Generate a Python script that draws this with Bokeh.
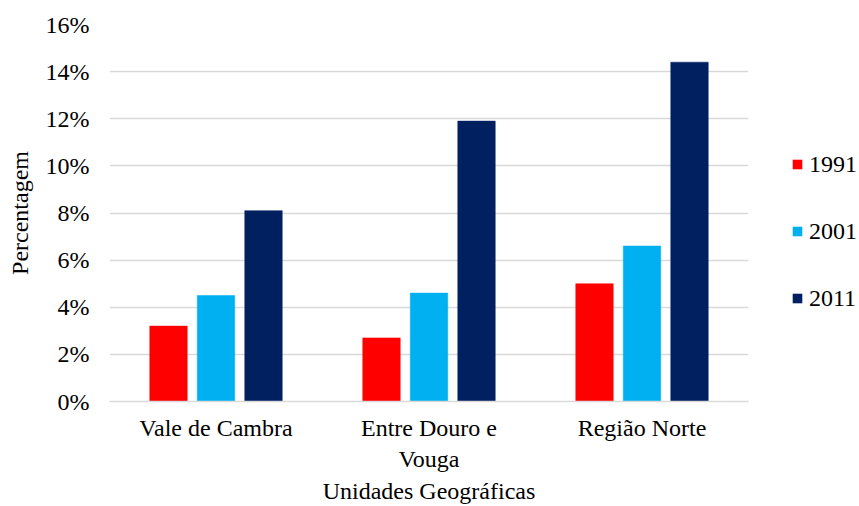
from bokeh.plotting import figure
from bokeh.layouts import row
from bokeh.models import (ColumnDataSource, FactorRange, FixedTicker, PrintfTickFormatter,
                          Legend, LegendItem, Range1d)
from bokeh.transform import dodge
from bokeh.embed import file_html
from bokeh.resources import INLINE

# Data: share (%) per geographic unit and census year
regions = ["Vale de Cambra", "Entre Douro e\nVouga", "Região Norte"]
years = ["1991", "2001", "2011"]
v1991 = [3.2, 2.7, 5.0]
v2001 = [4.5, 4.6, 6.6]
v2011 = [8.1, 11.9, 14.4]
y_ticks = [0, 2, 4, 6, 8, 10, 12, 14, 16]
colors = ["#FF0000", "#00B0F0", "#002060"]

FONT = "Liberation Serif"

source = ColumnDataSource(data=dict(region=regions, y1991=v1991, y2001=v2001, y2011=v2011))

p = figure(width=770, height=506, x_range=FactorRange(factors=regions),
           y_range=Range1d(0, 16), output_backend="svg", toolbar_location=None,
           min_border_left=109, min_border_right=22, min_border_top=24, min_border_bottom=103)
p.outline_line_color = None
p.background_fill_color = "white"
p.border_fill_color = "white"

offsets = [-0.223, 0.0, 0.223]
for yr, off, col in zip(years, offsets, colors):
    p.vbar(x=dodge("region", off, range=p.x_range), top="y" + yr, width=0.176,
           source=source, fill_color=col, line_color=col, line_width=0.5)

# Axes
p.yaxis.ticker = FixedTicker(ticks=y_ticks)
p.yaxis.formatter = PrintfTickFormatter(format="%d%%")
p.yaxis.axis_line_color = None
p.yaxis.major_tick_line_color = None
p.yaxis.minor_tick_line_color = None
p.yaxis.major_tick_out = 0
p.yaxis.major_label_standoff = 20
p.yaxis.major_label_text_font = FONT
p.yaxis.major_label_text_font_size = "24px"
p.yaxis.major_label_text_color = "black"
p.yaxis.axis_label = "Percentagem"
p.yaxis.axis_label_text_font = FONT
p.yaxis.axis_label_text_font_size = "24px"
p.yaxis.axis_label_text_font_style = "normal"
p.yaxis.axis_label_text_color = "black"
p.yaxis.axis_label_standoff = 10

p.xaxis.axis_line_color = "#d9d9d9"
p.xaxis.axis_line_width = 1.5
p.xaxis.major_tick_line_color = None
p.xaxis.minor_tick_line_color = None
p.xaxis.major_tick_out = 0
p.xaxis.major_label_standoff = 13
p.xaxis.major_label_text_font = FONT
p.xaxis.major_label_text_font_size = "24px"
p.xaxis.major_label_text_color = "black"
p.xaxis.major_label_text_line_height = 1.2
p.xaxis.axis_label = "Unidades Geográficas"
p.xaxis.axis_label_text_font = FONT
p.xaxis.axis_label_text_font_size = "24px"
p.xaxis.axis_label_text_font_style = "normal"
p.xaxis.axis_label_text_color = "black"
p.xaxis.axis_label_standoff = 3

p.xgrid.grid_line_color = None
p.ygrid.grid_line_color = "#d9d9d9"
p.ygrid.grid_line_width = 1.5

# Side strip holding the year legend; its bars have zero size and sit far
# outside its visible ranges, so only the legend keys show
lg = figure(width=89, height=506, x_range=FactorRange(factors=regions), y_range=Range1d(100, 101),
            output_backend="svg", toolbar_location=None,
            min_border=0, x_axis_location=None, y_axis_location=None)
lg.outline_line_color = None
lg.xgrid.visible = False
lg.ygrid.visible = False
lg.border_fill_color = "white"
lg.background_fill_color = "white"

keys = [lg.vbar(x=dodge("region", 50, range=lg.x_range), top="y" + yr, bottom="y" + yr,
                width=0, source=source, fill_color=col, line_color=None)
        for yr, col in zip(years, colors)]

legend = Legend(items=[LegendItem(label=yr, renderers=[r]) for yr, r in zip(years, keys)],
                location=(21, 88), orientation="vertical")
legend.label_text_font = FONT
legend.label_text_font_size = "24px"
legend.label_text_color = "black"
legend.glyph_width = 12
legend.glyph_height = 12
legend.label_standoff = 6
legend.label_height = 30
legend.spacing = 37
legend.padding = 0
legend.margin = 0
legend.border_line_color = None
legend.background_fill_alpha = 0
lg.add_layout(legend, "center")

layout = row(p, lg)
open("out.html", "w").write(file_html(layout, INLINE))
